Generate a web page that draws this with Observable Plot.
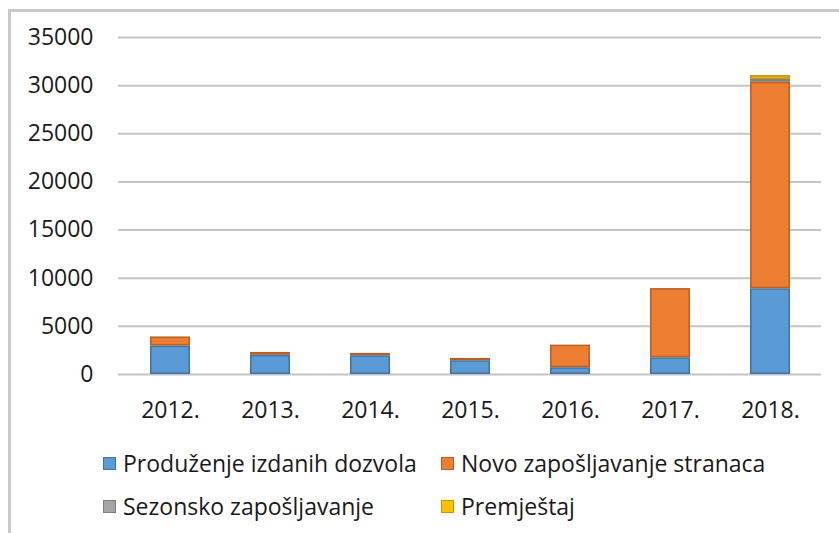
<!DOCTYPE html>
<html>
<head>
<meta charset="utf-8">
<script src="https://cdn.jsdelivr.net/npm/d3@7"></script>
<script src="https://cdn.jsdelivr.net/npm/@observablehq/plot@0.6"></script>
<style>
  html, body { margin: 0; padding: 0; background: #fff; }
  body { width: 839px; height: 533px; position: relative; overflow: hidden; font-family: "Open Sans", sans-serif; }
  #frame { position: absolute; left: 8px; top: 9px; width: 840px; height: 540px; border-left: 3px solid #c9c9c9; border-top: 3px solid #c9c9c9; }
  #chart { position: absolute; left: 0; top: 0; }
  #legend { position: absolute; left: 0; top: 0; width: 839px; height: 533px; pointer-events: none; }
  .item { position: absolute; display: flex; align-items: center; font-size: 23px; line-height: 30px; color: #1a1a1a; white-space: nowrap; }
  .sw { width: 11px; height: 11px; margin-right: 7px; border: 1px solid; }
</style>
</head>
<body>
<div id="frame"></div>
<div id="chart"></div>
<div id="legend"></div>
<script>
const years = ["2012.", "2013.", "2014.", "2015.", "2016.", "2017.", "2018."];
const seriesNames = ["Produženje izdanih dozvola", "Novo zapošljavanje stranaca", "Sezonsko zapošljavanje", "Premještaj"];
const produzenje = [2950, 2000, 1950, 1430, 700, 1730, 8900];
const novo = [950, 290, 240, 240, 2350, 7190, 21450];
const sezonsko = [0, 0, 0, 0, 0, 0, 300];
const premjestaj = [0, 0, 0, 0, 0, 0, 400];
const yTicks = [0, 5000, 10000, 15000, 20000, 25000, 30000, 35000];

const fills = ["#5b9bd5", "#ed7d31", "#a5a5a5", "#ffc000"];
const strokes = ["#3f73a6", "#b85f22", "#808080", "#c79500"];

const seriesValues = [produzenje, novo, sezonsko, premjestaj];
const rows = [];
seriesValues.forEach((vals, si) => {
  vals.forEach((v, yi) => {
    rows.push({year: years[yi], series: seriesNames[si], si, value: v});
  });
});
const data = rows.filter(d => d.value > 0);

const chart = Plot.plot({
  width: 839,
  height: 430,
  marginLeft: 118,
  marginRight: 18,
  marginTop: 37,
  marginBottom: 56,
  style: {fontFamily: "Open Sans, sans-serif", background: "transparent", overflow: "visible"},
  x: {domain: years, paddingInner: 0.6, paddingOuter: 0.3, label: null},
  y: {domain: [0, 35000], label: null},
  color: {type: "identity"},
  marks: [
    Plot.gridY(yTicks, {stroke: "#c4c4c4", strokeOpacity: 1, strokeWidth: 2}),
    Plot.barY(data, {
      x: "year", y: "value", order: null,
      fill: d => fills[d.si], stroke: d => strokes[d.si], strokeWidth: 1.5,
      insetTop: 0.75, insetBottom: 0.75, insetLeft: 0.75, insetRight: 0.75
    }),
    Plot.axisY(yTicks, {tickSize: 0, tickPadding: 25, fontSize: 23, fill: "#1a1a1a", tickFormat: d => String(d)}),
    Plot.axisX({tickSize: 0, tickPadding: 27, fontSize: 23, fill: "#1a1a1a"})
  ]
});
document.getElementById("chart").appendChild(chart);

const legendPos = [[103, 448], [441, 448], [103, 491], [441, 491]];
const legend = document.getElementById("legend");
seriesNames.forEach((name, i) => {
  const it = document.createElement("div");
  it.className = "item";
  it.style.left = legendPos[i][0] + "px";
  it.style.top = legendPos[i][1] + "px";
  const sw = document.createElement("span");
  sw.className = "sw";
  sw.style.background = fills[i];
  sw.style.borderColor = strokes[i];
  it.appendChild(sw);
  const t = document.createElement("span");
  t.textContent = name;
  it.appendChild(t);
  legend.appendChild(it);
});
</script>
</body>
</html>
